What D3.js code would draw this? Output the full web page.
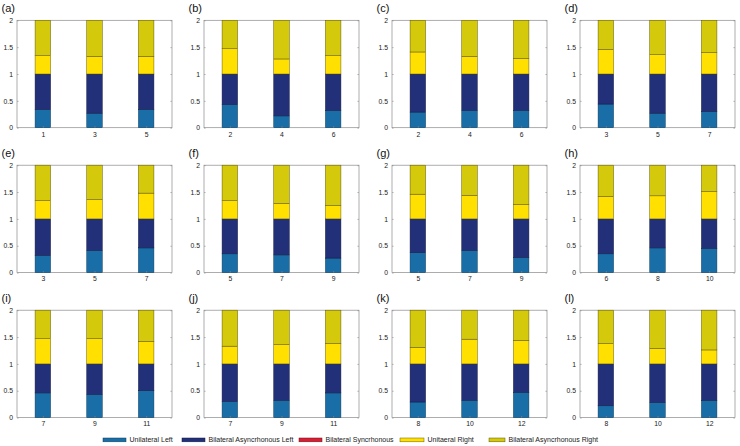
<!DOCTYPE html>
<html><head><meta charset="utf-8">
<script src="https://cdn.jsdelivr.net/npm/d3@7"></script>
<style>html,body{margin:0;padding:0;background:#fff;}svg{display:block;font-family:"Liberation Sans",Arial,sans-serif;}</style>
</head><body>
<svg id="chart" width="740" height="446"></svg>
<script>
// ---------- data ----------
const panelLabels = ["(a)","(b)","(c)","(d)","(e)","(f)","(g)","(h)","(i)","(j)","(k)","(l)"];
const xTicks = [[1,3,5],[2,4,6],[2,4,6],[3,5,7],[3,5,7],[5,7,9],[5,7,9],[6,8,10],[7,9,11],[7,9,11],[8,10,12],[8,10,12]];
const yTicks = [0, 0.5, 1, 1.5, 2];
const yTickLabels = ["0","0.5","1","1.5","2"];
const seriesNames = ["Unilateral Left","Bilateral Asyncrhonous Left","Bilateral Syncrhonous","Unitaeral Right","Bilateral Asyncrhonous Right"];
const unilateralLeft = [[0.34,0.27,0.34],[0.43,0.22,0.32],[0.29,0.32,0.32],[0.44,0.27,0.30],[0.32,0.41,0.46],[0.35,0.33,0.27],[0.37,0.41,0.28],[0.35,0.46,0.45],[0.46,0.43,0.50],[0.30,0.32,0.46],[0.29,0.32,0.47],[0.22,0.28,0.32]];
const bilateralAsyncLeft = [[0.66,0.73,0.66],[0.57,0.78,0.68],[0.71,0.68,0.68],[0.56,0.73,0.70],[0.68,0.59,0.54],[0.65,0.67,0.73],[0.63,0.59,0.72],[0.65,0.54,0.55],[0.54,0.57,0.50],[0.70,0.68,0.54],[0.71,0.68,0.53],[0.78,0.72,0.68]];
const bilateralSync = [[0,0,0],[0,0,0],[0,0,0],[0,0,0],[0,0,0],[0,0,0],[0,0,0],[0,0,0],[0,0,0],[0,0,0],[0,0,0],[0,0,0]];
const unilateralRight = [[0.34,0.33,0.33],[0.47,0.28,0.34],[0.41,0.33,0.29],[0.46,0.36,0.40],[0.34,0.36,0.48],[0.34,0.29,0.25],[0.46,0.44,0.27],[0.42,0.43,0.51],[0.47,0.47,0.42],[0.33,0.36,0.38],[0.31,0.46,0.44],[0.38,0.29,0.26]];
const bilateralAsyncRight = [[0.66,0.67,0.67],[0.53,0.72,0.66],[0.59,0.67,0.71],[0.54,0.64,0.60],[0.66,0.64,0.52],[0.66,0.71,0.75],[0.54,0.56,0.73],[0.58,0.57,0.49],[0.53,0.53,0.58],[0.67,0.64,0.62],[0.69,0.54,0.56],[0.62,0.71,0.74]];

// ---------- style / layout ----------
const colors = ["#1a6ea8","#22307a","#d81e35","#ffe000","#d4c90a"];
const edgeColors = ["#0d3a5a","#10173d","#6a0f1a","#6a5e00","#5e5800"];
const colLefts = [17, 204, 392, 580];
const rowTops = [20.3, 165.2, 310.2];
const pw = 155, ph = 107.4;

const svg = d3.select("#chart");
const keys = ["ul","bal","bs","ur","bar"];
const sources = [unilateralLeft, bilateralAsyncLeft, bilateralSync, unilateralRight, bilateralAsyncRight];

panelLabels.forEach((lab, p) => {
  const col = p % 4, row = Math.floor(p / 4);
  const g = svg.append("g").attr("transform", `translate(${colLefts[col]},${rowTops[row]})`);
  const ticks = xTicks[p];
  const x = d3.scaleLinear().domain([ticks[0]-1, ticks[ticks.length-1]+1]).range([0, pw]);
  const y = d3.scaleLinear().domain([0, 2]).range([ph, 0]);
  const rows = ticks.map((t, i) => {
    const o = {x: t};
    keys.forEach((k, s) => o[k] = sources[s][p][i]);
    return o;
  });
  const stacked = d3.stack().keys(keys)(rows);
  const bw = x(ticks[0] + 0.3) - x(ticks[0] - 0.3);

  g.append("rect").attr("x",0).attr("y",0).attr("width",pw).attr("height",ph)
    .attr("fill","#fff").attr("stroke","#8a8a8a").attr("stroke-width",0.7);

  stacked.forEach((layer, s) => {
    g.append("g").selectAll("rect").data(layer.filter(d => d[1] - d[0] > 0)).join("rect")
      .attr("x", d => x(d.data.x) - bw/2)
      .attr("width", bw)
      .attr("y", d => y(d[1]))
      .attr("height", d => y(d[0]) - y(d[1]))
      .attr("fill", colors[s])
      .attr("stroke", edgeColors[s]).attr("stroke-width", 0.5);
  });

  const yAxisL = d3.axisLeft(y).tickValues(yTicks).tickFormat((d,i) => yTickLabels[i]).tickSizeInner(-1.6).tickSizeOuter(0).tickPadding(4);
  const gy = g.append("g").call(yAxisL);
  const yAxisR = d3.axisRight(y).tickValues(yTicks).tickFormat("").tickSizeInner(-1.6).tickSizeOuter(0);
  const gyr = g.append("g").attr("transform",`translate(${pw},0)`).call(yAxisR);
  const xAxis = d3.axisBottom(x).tickValues(ticks).tickFormat(d3.format("d")).tickSizeInner(-1.6).tickSizeOuter(0).tickPadding(4);
  const gx = g.append("g").attr("transform",`translate(0,${ph})`).call(xAxis);
  [gy, gyr, gx].forEach(a => {
    a.select(".domain").remove();
    a.selectAll(".tick line").attr("stroke","#8a8a8a").attr("stroke-width",0.6);
    a.selectAll(".tick text").attr("fill","#1a1a1a").style("font-size","6.8px");
  });

  svg.append("text").attr("x", colLefts[col] - 15.5).attr("y", rowTops[row] - 8.3)
    .text(lab).style("font-size","11px").attr("fill","#111");
});

// legend
const legendX = [103, 182, 299, 400, 489];
const legendW = [23, 23, 23, 24, 16];
const lg = svg.append("g");
seriesNames.forEach((name, s) => {
  lg.append("rect").attr("x", legendX[s]).attr("y", 438).attr("width", legendW[s]).attr("height", 3.8)
    .attr("fill", colors[s]).attr("stroke", edgeColors[s]).attr("stroke-width", 0.5);
  lg.append("text").attr("x", legendX[s] + legendW[s] + 3.5).attr("y", 442.3)
    .text(name).style("font-size","7px").attr("fill","#1a1a1a");
});
</script>
</body></html>
